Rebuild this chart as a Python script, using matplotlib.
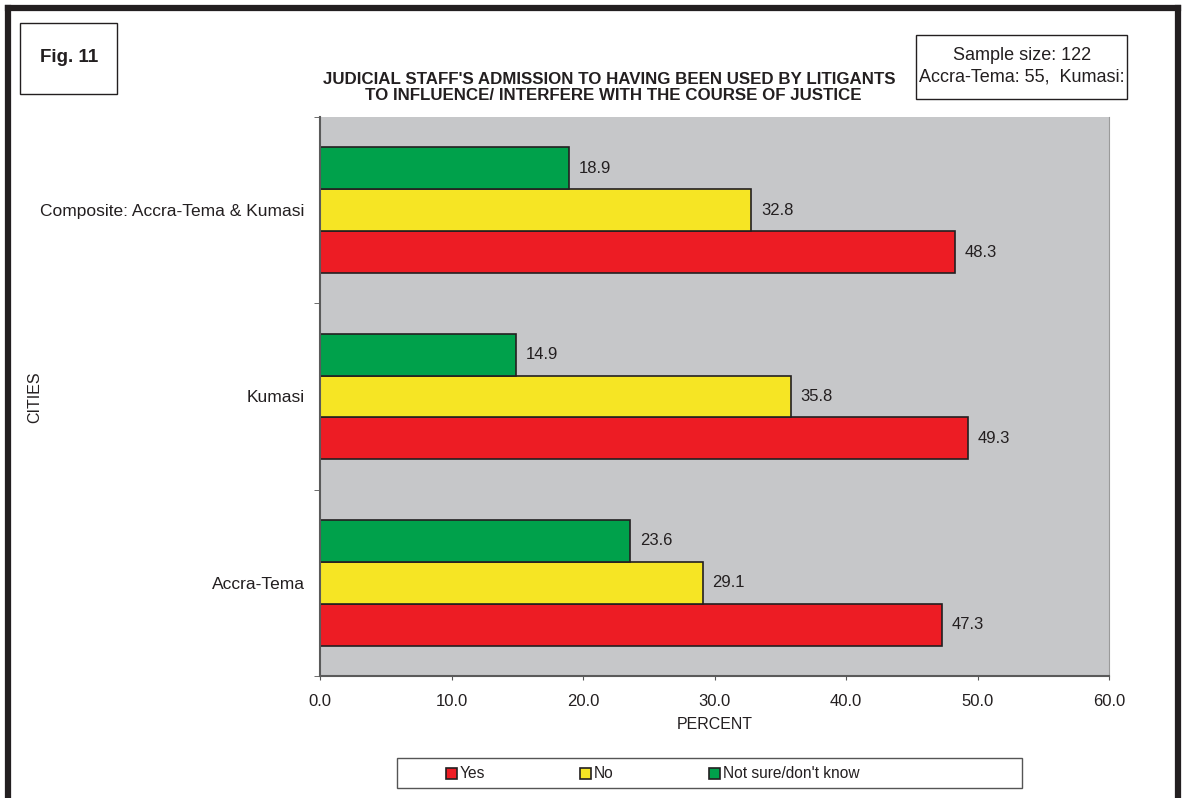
"""Horizontal grouped bar chart: judicial staff admission by city."""

import matplotlib.pyplot as plt
import numpy as np
from matplotlib.lines import Line2D
from matplotlib.patches import Rectangle

plt.rcParams["font.family"] = ["Liberation Sans", "DejaVu Sans"]

cities = ["Accra-Tema", "Kumasi", "Composite: Accra-Tema & Kumasi"]
series = ["Yes", "No", "Not sure/don't know"]
yes_pct = [47.3, 49.3, 48.3]
no_pct = [29.1, 35.8, 32.8]
not_sure_pct = [23.6, 14.9, 18.9]
colors = ["#ed1c24", "#f6e524", "#00a14b"]

INK = "#231f20"
W, H = 1182, 798
fig = plt.figure(figsize=(W / 100, H / 100), dpi=100)


def fx(px):
    return px / W


def fy(py):
    return 1 - py / H


ax = fig.add_axes([fx(320), fy(676), fx(1109) - fx(320), fy(117) - fy(676)])
ax.set_facecolor("#c6c7c9")

y = np.arange(len(cities))
h = 0.225
for i, (vals, col) in enumerate(zip([yes_pct, no_pct, not_sure_pct], colors)):
    bars = ax.barh(y + (i - 1) * h, vals, height=h, color=col,
                   edgecolor=INK, linewidth=1.2, label=series[i])
    ax.bar_label(bars, fmt="%.1f", padding=7, fontsize=12, color=INK)

ax.set_xlim(0, 60)
ax.set_ylim(-0.5, 2.5)
ax.set_xticks(np.arange(0, 61, 10))
ax.set_xticklabels([f"{v:.1f}" for v in range(0, 61, 10)], fontsize=12, color=INK)
ax.set_yticks(y)
ax.set_yticklabels(cities, fontsize=12.5, color=INK)
ax.set_yticks(np.arange(-0.5, 2.6, 1), minor=True)
ax.tick_params(axis="y", which="major", length=0, pad=11)
ax.tick_params(axis="y", which="minor", length=4, color="#555555", direction="out")
ax.tick_params(axis="x", length=3, color="#555555", pad=10)

for side in ["left", "bottom"]:
    ax.spines[side].set_color("#5a5a5a")
    ax.spines[side].set_linewidth(1.5)
ax.spines["top"].set_visible(False)
ax.spines["right"].set_color("#9a9a9a")
ax.spines["right"].set_linewidth(0.8)

ax.set_xlabel("PERCENT", fontsize=11.5, color=INK, labelpad=6)
fig.text(fx(35), fy(397), "CITIES", rotation=90, ha="center", va="center",
         fontsize=11.5, color=INK)

# title, two centred lines
fig.text(fx(609), fy(79), "JUDICIAL STAFF'S ADMISSION TO HAVING BEEN USED BY LITIGANTS",
         ha="center", va="center", fontsize=12.2, fontweight="bold", color=INK)
fig.text(fx(613), fy(95), "TO INFLUENCE/ INTERFERE WITH THE COURSE OF JUSTICE",
         ha="center", va="center", fontsize=12.2, fontweight="bold", color=INK)

# "Fig. 11" box
fig.patches.append(Rectangle((fx(20), fy(94)), fx(117) - fx(20), fy(23) - fy(94),
                             transform=fig.transFigure, fill=False,
                             edgecolor=INK, linewidth=1))
fig.text(fx(69), fy(57), "Fig. 11", ha="center", va="center",
         fontsize=13.5, fontweight="bold", color=INK)

# sample size box
fig.patches.append(Rectangle((fx(916), fy(99)), fx(1127) - fx(916), fy(35) - fy(99),
                             transform=fig.transFigure, fill=False,
                             edgecolor=INK, linewidth=1))
fig.text(fx(1022), fy(55), "Sample size: 122", ha="center", va="center",
         fontsize=13, color=INK)
fig.text(fx(1022), fy(77), "Accra-Tema: 55,  Kumasi:", ha="center", va="center",
         fontsize=13, color=INK)

# legend box
fig.patches.append(Rectangle((fx(397), fy(788)), fx(1022) - fx(397), fy(758) - fy(788),
                             transform=fig.transFigure, fill=False,
                             edgecolor="#555555", linewidth=1))
for x0, name, col in zip([446, 580, 709], series, colors):
    fig.patches.append(Rectangle((fx(x0), fy(779)), fx(11) - fx(0), fy(768) - fy(779),
                                 transform=fig.transFigure, facecolor=col,
                                 edgecolor=INK, linewidth=1.2))
    fig.text(fx(x0 + 14), fy(774), name, ha="left", va="center",
             fontsize=11.2, color=INK)

# outer frame (open at the bottom)
for xs, ys in [((8, 1178), (8, 8)), ((8, 8), (8, 798)), ((1178, 1178), (8, 798))]:
    fig.lines.append(Line2D([fx(v) for v in xs], [fy(v) for v in ys],
                            transform=fig.transFigure, color=INK,
                            linewidth=4.5, solid_capstyle="projecting"))

fig.savefig("out.png", dpi=100)
